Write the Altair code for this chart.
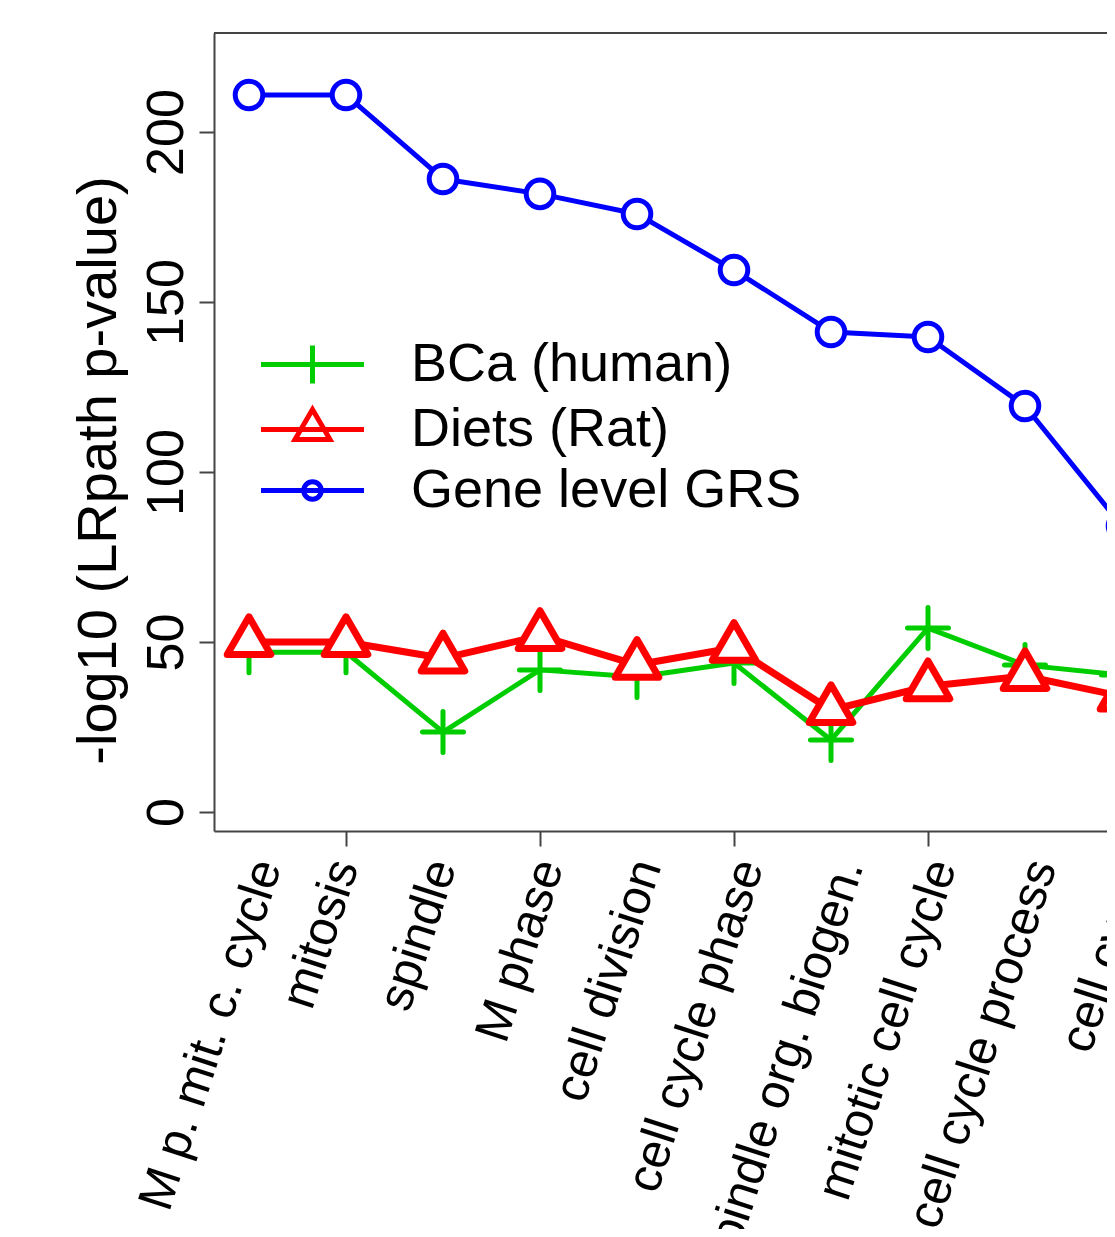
import json
import altair as alt
import pandas as pd

terms = ["M p. mit. c. cycle", "mitosis", "spindle", "M phase", "cell division",
         "cell cycle phase", "spindle org. biogen.", "mitotic cell cycle",
         "cell cycle process", "cell cycle"]
series_names = ["BCa (human)", "Diets (Rat)", "Gene level GRS"]
series_colors = ["#00CD00", "#FF0000", "#0000FF"]
bca = [47.0, 47.0, 23.5, 41.8, 39.7, 43.8, 21.2, 54.1, 43.2, 40.3]
diets = [50.0, 50.0, 45.2, 51.8, 43.3, 48.3, 30.0, 37.0, 40.0, 34.0]
grs = [210.9, 210.9, 186.2, 181.8, 175.9, 159.4, 141.2, 139.7, 119.4, 84.1]
y_ticks = [0, 50, 100, 150, 200]

# per-label horizontal nudges (style only), mimicking the original label placement
label_dx = [18, -2, -1, 9, 10, 15, 18, 14, 17, 15]

FONT = "Liberation Sans"
AX = "#444444"

def frame(vals, name):
    return pd.DataFrame({"term": terms, "value": vals, "series": name})

label_offset = {
    "condition": [{"test": f"datum.value === {json.dumps(t)}", "value": d}
                  for t, d in zip(terms, label_dx)],
    "value": 0,
}

x_enc = alt.X(
    "term:N", sort=terms,
    scale=alt.Scale(type="point", range=[0, 943], padding=0.3608),
    axis=alt.Axis(
        title=None, labelAngle=288, labelAlign="right", labelBaseline="middle",
        labelPadding=15, labelOffset=label_offset, tickSize=15, tickWidth=2, tickColor=AX,
        tickOpacity={"condition": {"test": f"indexof({json.dumps(terms)}, datum.value) % 2 == 1", "value": 1}, "value": 0},
        domainColor=AX, domainWidth=2, labelFontSize=49, labelFont=FONT,
        labelColor="black", labelOverlap=False, labelLimit=1000, labelBound=False,
        labelFlush=False, grid=False,
    ),
)
y_enc = alt.Y(
    "value:Q",
    scale=alt.Scale(domain=[-5.59, 229.12], nice=False, zero=False),
    axis=alt.Axis(
        values=y_ticks, labelAngle=270, labelAlign="center", labelBaseline="alphabetic",
        labelPadding=17, tickSize=15, tickWidth=2, tickColor=AX, domainColor=AX,
        domainWidth=2, labelFontSize=52, labelFont=FONT, labelColor="black", grid=False,
        labelFlush=False, labelOverlap=False,
        title="-log10 (LRpath p-value)", titleFontSize=56, titleFont=FONT,
        titleFontWeight="normal", titleAngle=270, titleAlign="center",
        titleBaseline="alphabetic", titleX=-99, titleY=437, titleColor="black",
    ),
)

def line_layer(df, color, sw):
    return alt.Chart(df).mark_line(color=color, strokeWidth=sw, strokeCap="round",
                                   strokeJoin="round").encode(x=x_enc, y=y_enc)

def point_layer(df, color, shape, size, sw, fill=None):
    kw = dict(shape=shape, size=size, stroke=color, color=color, strokeWidth=sw,
              strokeCap="round", strokeJoin="round", opacity=1)
    if fill:
        kw.update(filled=True, fill=fill, fillOpacity=1)
    else:
        kw.update(filled=False)
    return alt.Chart(df).mark_point(**kw).encode(x=x_enc, y=y_enc)

g_df = frame(bca, series_names[0])
r_df = frame(diets, series_names[1])
b_df = frame(grs, series_names[2])

PLUS = "M-1,0L1,0M0,-1L0,1"
TRI = "M0,-1.155L1,0.577L-1,0.577Z"

leg_paths = [
    "M-2,0L2,0M0,-0.74L0,0.74",
    "M-2,0L2,0M0,-0.78L0.68,0.39L-0.68,0.39Z",
    "M-2,0L2,0M-0.34,0A0.34,0.34 0 1,1 0.34,0A0.34,0.34 0 1,1 -0.34,0Z",
]
legend = alt.Legend(
    title=None, orient="none", legendX=70, legendY=303, padding=0,
    symbolSize=2652, symbolStrokeWidth=5, symbolOpacity=1, symbolFillColor="transparent",
    labelFontSize=54, labelFont=FONT, labelColor="black", labelOffset=70,
    labelLimit=1000, rowPadding=5,
)
all_df = pd.concat([g_df, r_df, b_df], ignore_index=True)
legend_layer = alt.Chart(all_df).mark_point(opacity=0, filled=False).encode(
    x=x_enc, y=y_enc,
    color=alt.Color("series:N", scale=alt.Scale(domain=series_names, range=series_colors), legend=legend),
    shape=alt.Shape("series:N", scale=alt.Scale(domain=series_names, range=leg_paths), legend=legend),
)

top_border = alt.Chart(pd.DataFrame({"k": [0]})).mark_rule(color=AX, strokeWidth=2).encode(
    x=alt.value(0), x2=alt.value(1000), y=alt.value(0))

chart = alt.layer(
    legend_layer,
    line_layer(b_df, series_colors[2], 5),
    point_layer(b_df, series_colors[2], "circle", 760, 5, fill="white"),
    line_layer(g_df, series_colors[0], 5),
    point_layer(g_df, series_colors[0], PLUS, 1681, 5),
    line_layer(r_df, series_colors[1], 7),
    point_layer(r_df, series_colors[1], TRI, 1900, 7, fill="white"),
    top_border,
).properties(
    width=893, height=798,
    padding={"left": 206, "top": 25, "right": 0, "bottom": 398},
    autosize=alt.AutoSizeParams(type="none"),
    background="white",
).configure_view(stroke=None)

chart.save("out.html", embed_options={"renderer": "svg", "actions": False})
